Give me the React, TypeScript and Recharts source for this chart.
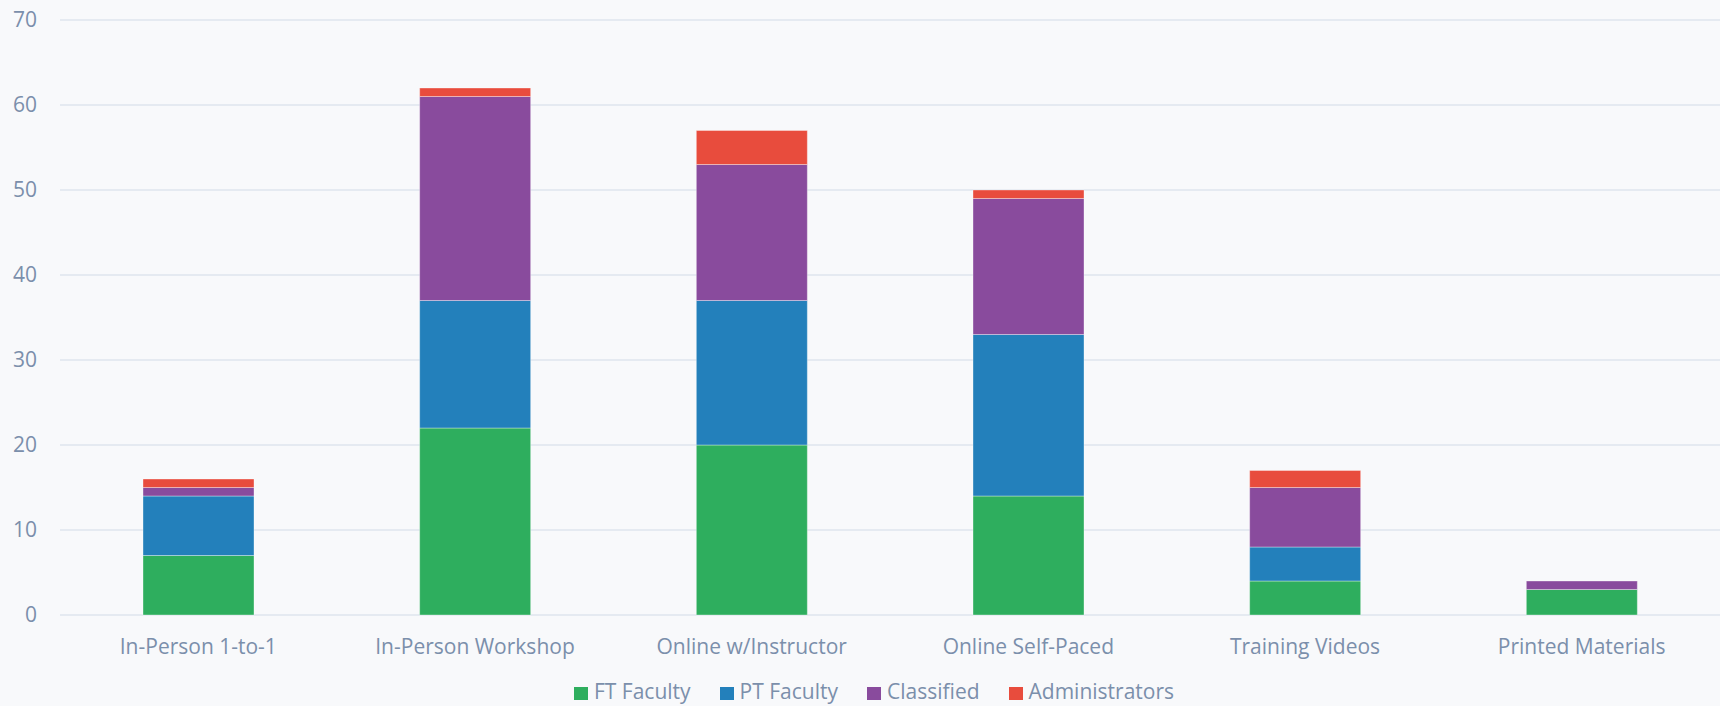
import React from "react";
import { BarChart, Bar, XAxis, YAxis, CartesianGrid, Legend } from "recharts";

const categories = [
  "In-Person 1-to-1",
  "In-Person Workshop",
  "Online w/Instructor",
  "Online Self-Paced",
  "Training Videos",
  "Printed Materials",
];
const ftFaculty = [7, 22, 20, 14, 4, 3];
const ptFaculty = [7, 15, 17, 19, 4, 0];
const classified = [1, 24, 16, 16, 7, 1];
const administrators = [1, 1, 4, 1, 2, 0];
const yTicks = [0, 10, 20, 30, 40, 50, 60, 70];

const seriesNames = ["FT Faculty", "PT Faculty", "Classified", "Administrators"];
const seriesKeys = ["ft", "pt", "cl", "ad"];
const seriesColors = ["#2eae5e", "#2380bb", "#894b9d", "#e84c3d"];

const data = categories.map((name, i) => ({
  name,
  ft: ftFaculty[i],
  pt: ptFaculty[i],
  cl: classified[i],
  ad: administrators[i],
}));

const TEXT = "#7b8fab";
const FONT = "'Open Sans', sans-serif";

const LegendContent = () => (
  <div
    style={{
      display: "flex",
      justifyContent: "center",
      alignItems: "center",
      height: 26,
      paddingLeft: 28,
      position: "relative",
      top: -2,
      fontFamily: FONT,
      fontSize: 21,
      color: TEXT,
    }}
  >
    {seriesNames.map((n, i) => (
      <div key={n} style={{ display: "flex", alignItems: "center", marginRight: i < seriesNames.length - 1 ? 29 : 0 }}>
        <span
          style={{
            width: 14,
            height: 13,
            background: seriesColors[i],
            display: "inline-block",
            marginRight: 6,
            position: "relative",
            top: 2,
          }}
        />
        <span style={{ lineHeight: "26px" }}>{n}</span>
      </div>
    ))}
  </div>
);

export default function App() {
  if (typeof document !== "undefined") {
    document.body.style.margin = "0";
    document.body.style.background = "#f8f9fb";
  }
  return (
    <div style={{ width: 1720, height: 706, background: "#f8f9fb", fontFamily: FONT }}>
      <BarChart
        width={1720}
        height={706}
        data={data}
        margin={{ top: 20, right: 0, left: 0, bottom: 0 }}
        barCategoryGap="30%"
      >
        <CartesianGrid vertical={false} stroke="#dfe5ee" strokeWidth={1.3} />
        <XAxis
          dataKey="name"
          axisLine={false}
          tickLine={false}
          tickSize={0}
          tickMargin={24}
          height={65}
          tick={{ fill: TEXT, fontSize: 21, fontFamily: FONT }}
          interval={0}
        />
        <YAxis
          width={60}
          domain={[0, 70]}
          ticks={yTicks}
          axisLine={false}
          tickLine={false}
          tickSize={0}
          tickMargin={23}
          tick={{ fill: TEXT, fontSize: 21, fontFamily: FONT }}
        />
        <Legend verticalAlign="bottom" height={26} content={<LegendContent />} />
        {seriesKeys.map((k, i) => (
          <Bar
            key={k}
            dataKey={k}
            name={seriesNames[i]}
            stackId="a"
            fill={seriesColors[i]}
            stroke="rgba(255,255,255,0.35)"
            isAnimationActive={false}
          />
        ))}
      </BarChart>
    </div>
  );
}
